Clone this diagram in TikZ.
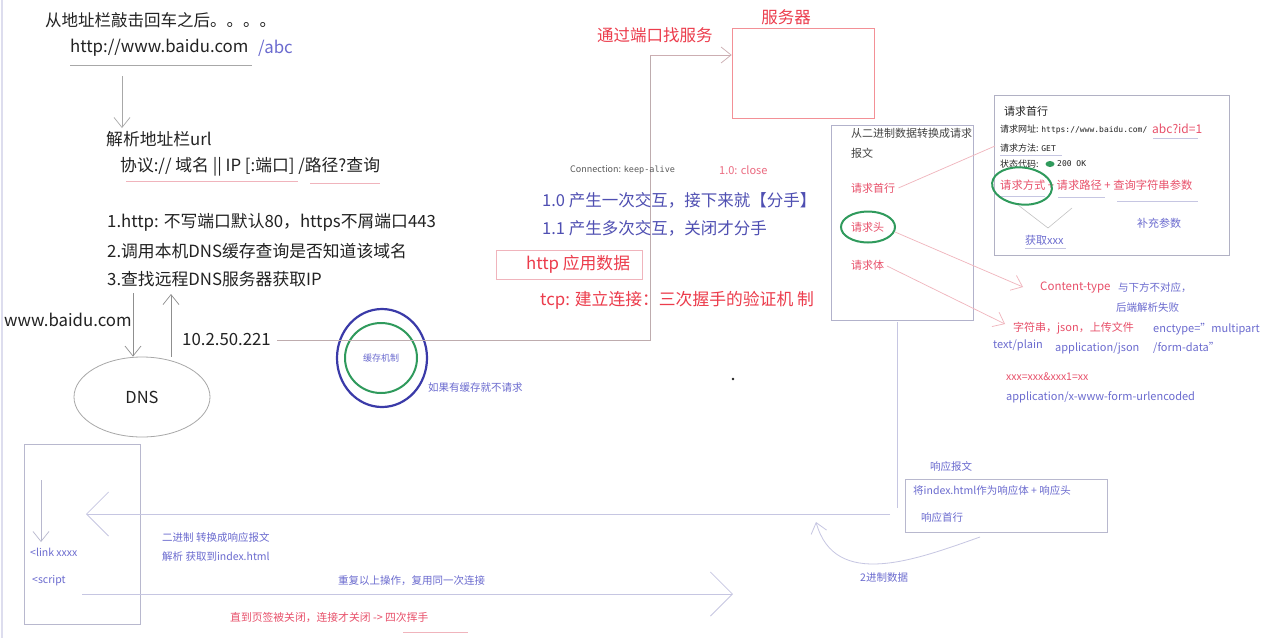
\documentclass[tikz,border=0pt]{standalone}
\usepackage{fontspec}
\setmainfont{Noto Sans CJK SC}
\newfontfamily\monof{DejaVu Sans Mono}
\usetikzlibrary{arrows.meta,shapes.geometric}
\definecolor{ink}{HTML}{222222}
\definecolor{gl}{HTML}{A8A8A8}
\definecolor{pl}{HTML}{F0B4BC}
\definecolor{ll}{HTML}{C6C6E2}
\definecolor{redt}{HTML}{EC3C4C}
\definecolor{pinkt}{HTML}{E8506A}
\definecolor{purt}{HTML}{4F4FB2}
\definecolor{lpur}{HTML}{6B6BCF}
\definecolor{bluec}{HTML}{3A3AA8}
\definecolor{greenc}{HTML}{2F9A5C}
\newcommand\fsz[1]{\fontsize{#1}{#1}\selectfont}
\begin{document}
\begin{tikzpicture}[x=1pt,y=-1pt,
  tx/.style={inner sep=0pt,anchor=west,text=ink,font=\fsz{16.8}},
  sm/.style={inner sep=0pt,anchor=west,text=lpur,font=\fsz{11}},
  rq/.style={inner sep=0pt,anchor=west,text=pinkt,font=\fsz{11}},
  arr/.style={-{Straight Barb[length=10pt,width=16pt]}},
  bigarr/.style={-{Straight Barb[length=22pt,width=44pt]}},
  gline/.style={draw=gl,line width=0.7pt},
  pline/.style={draw=pl,line width=0.7pt},
  lline/.style={draw=ll,line width=0.8pt}]
\useasboundingbox (0,0) rectangle (1280,638);
\fill[white] (0,0) rectangle (1280,638);
\draw[draw=ll!60,line width=1.5pt] (2,0) -- (2,638);

% ---------- top left ----------
\node[tx,font=\fsz{16.5}] (t1) at (45,20) {从地址栏敲击回车之后。。。。};
\node[tx] (url) at (70,48) {http://www.baidu.com};
\node[tx,text=lpur] (abc) at (258,48) {/abc};
\draw[gline] (70,65) -- (252,65);
\coordinate (ua) at (122,76);
\coordinate (pa) at (122,128);
\draw[gline,arr] (ua) -- (pa);
\node[tx] (parse) at (106,139) {解析地址栏url};
\node[tx] (proto) at (120,167) {协议:// 域名 || IP [:端口] /路径?查询};
\draw[pline] (126,181) -- (298,181);
\draw[pline] (310,183) -- (380,183);
\node[tx] (l1) at (107,222) {1.http: 不写端口默认80，https不屑端口443};
\node[tx] (l2) at (107,251) {2.调用本机DNS缓存查询是否知道该域名};
\node[tx] (l3) at (107,279) {3.查找远程DNS服务器获取IP};
\node[tx] (www) at (4,320) {www.baidu.com};
\node[tx] (ip) at (182,340) {10.2.50.221};
\node[draw=gl,line width=0.8pt,ellipse,minimum width=136pt,minimum height=80pt,inner sep=0pt,font=\fsz{16.5},text=ink] (dns) at (142,397) {DNS};
\coordinate (da) at (133,293);
\coordinate (ub) at (171,294);
\draw[draw=gl!85!black,line width=0.7pt,arr] (da) -- (da |- dns.north);
\draw[draw=gl!85!black,line width=0.7pt,arr] (ub |- dns.north) -- (ub);

% ---------- cache circles ----------
\node[draw=bluec,line width=2.2pt,ellipse,minimum width=90pt,minimum height=98pt] (cacheo) at (382,358) {};
\node[draw=greenc,line width=2pt,ellipse,minimum width=72pt,minimum height=70pt,inner sep=0pt,font=\fsz{9},text=lpur] (cachei) at (381,358) {缓存机制};
\node[sm,font=\fsz{10.5}] (nocache) at (428,388) {如果有缓存就不请求};

% ---------- server ----------
\node[inner sep=0pt,text=redt,font=\fsz{16.5}] (srvt) at (786,17) {服务器};
\node[tx,text=redt,font=\fsz{16.5}] (port) at (597,35) {通过端口找服务};
\node[draw=pl!80!red,line width=0.7pt,minimum width=142pt,minimum height=90pt,inner sep=0pt] (server) at (803,73) {};
\coordinate (c1) at (277,340);
\coordinate (c2) at (650,340);
\coordinate (c3) at (650,55);
\draw[draw=gl!70!pl,line width=0.7pt] (c1) -- (c2) -- (c3);
\draw[draw=gl!50!pl,line width=0.7pt,arr] (c3) -- (c3 -| server.west);

\node[inner sep=0pt,anchor=west,text=ink!75,font=\fsz{9}] (conn) at (570,170) {Connection: {\monof\fsz{8.5}keep-alive}};
\node[inner sep=0pt,anchor=west,text=pinkt!85,font=\fsz{11}] (close) at (719,170) {1.0: close};
\node[tx,text=purt,font=\fsz{16.5}] (v10) at (542,200) {1.0 产生一次交互，接下来就【分手】};
\node[tx,text=purt,font=\fsz{16.5}] (v11) at (542,228) {1.1 产生多次交互，关闭才分手};
\node[draw=pl,line width=0.7pt,minimum width=146pt,minimum height=29pt,inner sep=0pt] (httpbox) at (569,264.5) {};
\node[tx,text=redt] (httpt) at (526,264) {http 应用数据};
\node[tx,text=redt] (tcp) at (540,300) {tcp: 建立连接：三次握手的验证机 制};
\fill[ink] (733,379) circle (1.3pt);

% ---------- request box ----------
\node[draw=ll!90!black,line width=0.7pt,minimum width=142pt,minimum height=195pt,inner sep=0pt] (reqbox) at (902,222.5) {};
\node[tx,font=\fsz{11},text=ink!85] (bin) at (851,133) {从二进制数据转换成请求};
\node[tx,font=\fsz{11},text=ink!85] (bw) at (851,153) {报文};
\node[rq] (qline) at (851,188) {请求首行};
\node[rq] (qhead) at (851,227) {请求头};
\node[rq] (qbody) at (851,265) {请求体};
\node[draw=greenc,line width=2pt,ellipse,minimum width=54pt,minimum height=31pt] (ghead) at (868,227) {};

% ---------- request line box ----------
\node[draw=ll!70!gray,line width=0.7pt,minimum width=235pt,minimum height=160pt,inner sep=0pt] (rlbox) at (1111.5,175) {};
\node[tx,font=\fsz{11}] (rlt) at (1004,111) {请求首行};
\node[tx,font=\fsz{9}] (rurl) at (1000,130) {请求网址: {\monof\fsz{8}https://www.baidu.com/}};
\node[rq,font=\fsz{12}] (rabc) at (1152,129) {abc?id=1};
\draw[lline] (1153,138) -- (1198,138);
\node[tx,font=\fsz{9}] (rmeth) at (1000,148) {请求方法: {\monof\fsz{8}GET}};
\draw[lline] (1000,155) -- (1062,155);
\node[tx,font=\fsz{9}] (rstat) at (1000,164) {状态代码:};
\fill[greenc] (1050,164) ellipse (4.5pt and 3pt);
\node[tx,font=\fsz{8},text=ink] (rok) at (1057,164) {\monof 200 OK};
\node[rq,font=\fsz{11.3}] (rform) at (1000,185) {请求方式 + 请求路径 + 查询字符串参数};
\draw[lline] (1000,196) -- (1045,196);
\draw[lline] (1058,197) -- (1105,197);
\draw[lline] (1117,201) -- (1198,201);
\node[draw=greenc,line width=2pt,ellipse,minimum width=60pt,minimum height=37pt,rotate=-6] (gmeth) at (1022,186) {};
\node[sm] (getx) at (1025,240) {获取xxx};
\draw[lline] (1025,248) -- (1066,248);
\coordinate (v1) at (1018,205);
\coordinate (v2) at (1072,208);
\coordinate (vt) at (1048,228);
\draw[draw=gl!70,line width=0.6pt] (v1) -- (vt) -- (v2);
\node[sm] (supp) at (1137,223) {补充参数};
\coordinate (rla) at (995,146);
\draw[pline] (qline.east) ++(3,0) coordinate (qle) (qle) -- (rla);

% ---------- content type ----------
\node[rq,font=\fsz{11.5}] (ctype) at (1040,288) {Content-type};
\node[sm,font=\fsz{10.5}] (ctn) at (1118,288) {与下方不对应，};
\node[sm,font=\fsz{10.5}] (ctf) at (1116,308) {后端解析失败};
\node[rq,font=\fsz{11}] (strs) at (1013,328) {字符串，json，上传文件};
\node[sm] (enc) at (1153,329) {enctype="multipart};
\node[sm] (tplain) at (993,345) {text/plain};
\node[sm] (ajson) at (1055,348) {application/json};
\node[sm] (fdata) at (1153,348) {/form-data"};
\node[rq,font=\fsz{10.5}] (xxx) at (1006,377) {xxx=xxx\&xxx1=xx};
\node[sm] (aurl) at (1006,397) {application/x-www-form-urlencoded};
\coordinate (h1) at (895,232);
\coordinate (h2) at (1023,287);
\draw[pline,arr] (h1) -- (h2);
\coordinate (b1) at (887,266);
\coordinate (b2) at (1005,324);
\draw[pline,arr] (b1) -- (b2);

% ---------- bottom ----------
\node[draw=ll!80!gray,line width=0.7pt,minimum width=116pt,minimum height=180pt,inner sep=0pt] (page) at (82,534) {};
\coordinate (pd1) at (41,480);
\coordinate (pd2) at (41,542);
\draw[draw=ll!80!gray,line width=0.7pt,arr] (pd1) -- (pd2);
\node[sm,font=\fsz{10.5}] (link) at (30,552) {<link xxxx};
\node[sm,font=\fsz{10.5}] (scr) at (32,581) {<script};
\coordinate (vr1) at (897,322);
\coordinate (vr2) at (897,508);
\draw[lline] (vr1) -- (vr2);
\coordinate (hr1) at (890,514);
\coordinate (hr2) at (86,514);
\draw[lline,bigarr] (hr1) -- (hr2);
\node[sm,font=\fsz{10.5}] (b2m) at (162,537) {二进制 转换成响应报文};
\node[sm,font=\fsz{10.5}] (pidx) at (162,557) {解析 获取到index.html};
\node[sm,font=\fsz{10.5}] (rep) at (338,581) {重复以上操作，复用同一次连接};
\coordinate (lr1) at (82,594);
\coordinate (lr2) at (733,594);
\draw[lline,bigarr] (lr1) -- (lr2);
\node[rq,font=\fsz{10.8}] (closed) at (230,618) {直到页签被关闭，连接才关闭 -> 四次挥手};
\draw[pline] (403,632) -- (468,632);

% ---------- response ----------
\node[sm,font=\fsz{10.5}] (resp) at (930,466) {响应报文};
\node[draw=ll!80!gray,line width=0.7pt,minimum width=202pt,minimum height=53pt,inner sep=0pt] (respbox) at (1006,505.5) {};
\node[sm,font=\fsz{10.5}] (respa) at (913,490) {将index.html作为响应体 + 响应头};
\node[sm,font=\fsz{10.5}] (respb) at (921,517) {响应首行};
\coordinate (cv1) at (980,537);
\coordinate (cv2) at (816,522);
\draw[lline,arr] (cv1) .. controls (915,560) and (835,590) .. (cv2);
\node[sm,font=\fsz{10.5}] (bin2) at (860,578) {2进制数据};
\end{tikzpicture}
\end{document}
